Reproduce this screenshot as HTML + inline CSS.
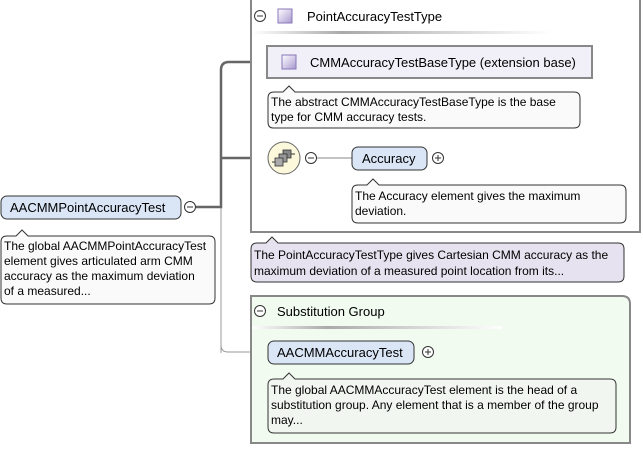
<!DOCTYPE html>
<html><head><meta charset="utf-8"><style>
html,body{margin:0;padding:0;background:#fff;}
svg text{font-family:"Liberation Sans",sans-serif;fill:#000;}
</style></head><body>
<svg width="643" height="446" viewBox="0 0 643 446" xmlns="http://www.w3.org/2000/svg">
<defs>
<linearGradient id="hl" x1="0" x2="1"><stop offset="0" stop-color="#fff"/><stop offset="0.3" stop-color="#aaa"/><stop offset="1" stop-color="#fff"/></linearGradient>
<linearGradient id="sq" x1="0" y1="0" x2="1" y2="1"><stop offset="0" stop-color="#fff"/><stop offset="1" stop-color="#a898d0"/></linearGradient>
</defs>
<!-- connectors -->
<path d="M221 353 V345 Q221 352 228 352 H268" fill="none" stroke="#999" stroke-width="1"/>
<line x1="221" y1="207" x2="221" y2="348" stroke="#999"/>
<path d="M196 207 H221 V70 Q221 62 229 62 H268" fill="none" stroke="#666" stroke-width="2.5"/>
<line x1="221" y1="158" x2="268" y2="158" stroke="#666" stroke-width="2.5"/>
<!-- type box -->
<rect x="251" y="-2" width="389" height="234" fill="#fff" stroke="#888" stroke-width="2"/>
<rect x="252" y="31" width="300" height="3" fill="url(#hl)"/>
<circle cx="260" cy="16" r="5.5" fill="#fff" stroke="#333"/><line x1="257" y1="16" x2="263" y2="16" stroke="#333"/>
<rect x="278" y="9" width="14" height="14" fill="url(#sq)" stroke="#8878b8"/>
<text x="307" y="21" font-size="13">PointAccuracyTestType</text>
<!-- base -->
<rect x="267" y="46" width="325" height="32" fill="#f1eff7" stroke="#888" stroke-width="2"/>
<rect x="282" y="55" width="14" height="14" fill="url(#sq)" stroke="#8878b8"/>
<text x="310" y="67" font-size="13">CMMAccuracyTestBaseType (extension base)</text>
<path d="M274 92 H283 L289 86 L295 92 H574 Q580 92 580 98 V122 Q580 128 574 128 H273 Q268 128 268 122 V98 Q268 92 274 92Z" fill="#fafafa" stroke="#333"/>
<text x="271" y="106" font-size="12">The abstract CMMAccuracyTestBaseType is the base</text>
<text x="271" y="121" font-size="12">type for CMM accuracy tests.</text>
<!-- sequence -->
<circle cx="284" cy="158" r="16" fill="#fcf8dc" stroke="#666"/>
<rect x="283" y="150" width="8" height="8" fill="#888" stroke="#333" stroke-width="0.8"/>
<rect x="279" y="154" width="8" height="8" fill="#999" stroke="#333" stroke-width="0.8"/>
<rect x="275" y="158" width="8" height="8" fill="#aaa" stroke="#333" stroke-width="0.8"/>
<line x1="272" y1="162" x2="275" y2="162" stroke="#333"/><line x1="291" y1="154" x2="295" y2="154" stroke="#333"/>
<circle cx="311" cy="158" r="5.5" fill="#fff" stroke="#333"/><line x1="308" y1="158" x2="314" y2="158" stroke="#333"/>
<line x1="317" y1="158" x2="352" y2="158" stroke="#888"/>
<rect x="352" y="147" width="75" height="23" rx="6" fill="#dae6f6" stroke="#333"/>
<text x="362" y="163" font-size="13">Accuracy</text>
<circle cx="438" cy="158" r="5.5" fill="#fff" stroke="#333"/><line x1="435" y1="158" x2="441" y2="158" stroke="#333"/><line x1="438" y1="155" x2="438" y2="161" stroke="#333"/>
<path d="M358 185 H367 L373 179 L379 185 H620 Q626 185 626 191 V217 Q626 223 620 223 H358 Q352 223 352 217 V191 Q352 185 358 185Z" fill="#fafafa" stroke="#333"/>
<text x="355" y="200" font-size="12">The Accuracy element gives the maximum</text>
<text x="355" y="215" font-size="12">deviation.</text>
<!-- type desc -->
<path d="M257 243 H266 L272 237 L278 243 H618 Q624 243 624 249 V276 Q624 282 618 282 H257 Q251 282 251 276 V249 Q251 243 257 243Z" fill="#e6e2ef" stroke="#333"/>
<text x="254" y="259" font-size="12">The PointAccuracyTestType gives Cartesian CMM accuracy as the</text>
<text x="254" y="275" font-size="12">maximum deviation of a measured point location from its...</text>
<!-- main element -->
<rect x="1" y="196" width="180" height="23" rx="6" fill="#dae6f6" stroke="#333"/>
<text x="10" y="212" font-size="13">AACMMPointAccuracyTest</text>
<circle cx="190" cy="207" r="5.5" fill="#fff" stroke="#333"/><line x1="187" y1="207" x2="193" y2="207" stroke="#333"/>
<path d="M7 236 H16 L22 230 L28 236 H209 Q215 236 215 242 V298 Q215 304 209 304 H7 Q1 304 1 298 V242 Q1 236 7 236Z" fill="#fafafa" stroke="#333"/>
<text x="4" y="250" font-size="12">The global AACMMPointAccuracyTest</text>
<text x="4" y="265" font-size="12">element gives articulated arm CMM</text>
<text x="4" y="280" font-size="12">accuracy as the maximum deviation</text>
<text x="4" y="295" font-size="12">of a measured...</text>
<!-- substitution group -->
<path d="M251 296 H622 Q630 296 630 304 V443 H251Z" fill="#f1fbf0" stroke="#888" stroke-width="2"/>
<rect x="252" y="326" width="250" height="3" fill="url(#hl)"/>
<circle cx="260" cy="311" r="5.5" fill="#fff" stroke="#333"/><line x1="257" y1="311" x2="263" y2="311" stroke="#333"/>
<text x="277" y="316" font-size="13">Substitution Group</text>
<rect x="268" y="341" width="146" height="23" rx="6" fill="#dae6f6" stroke="#333"/>
<text x="277" y="357" font-size="13">AACMMAccuracyTest</text>
<circle cx="428" cy="352" r="5.5" fill="#fff" stroke="#333"/><line x1="425" y1="352" x2="431" y2="352" stroke="#333"/><line x1="428" y1="349" x2="428" y2="355" stroke="#333"/>
<path d="M274 379 H283 L289 373 L295 379 H610 Q616 379 616 385 V427 Q616 433 610 433 H274 Q268 433 268 427 V385 Q268 379 274 379Z" fill="#f1f7f0" stroke="#333"/>
<text x="271" y="394" font-size="12">The global AACMMAccuracyTest element is the head of a</text>
<text x="271" y="409" font-size="12">substitution group. Any element that is a member of the group</text>
<text x="271" y="424" font-size="12">may...</text>
</svg>
</body></html>
